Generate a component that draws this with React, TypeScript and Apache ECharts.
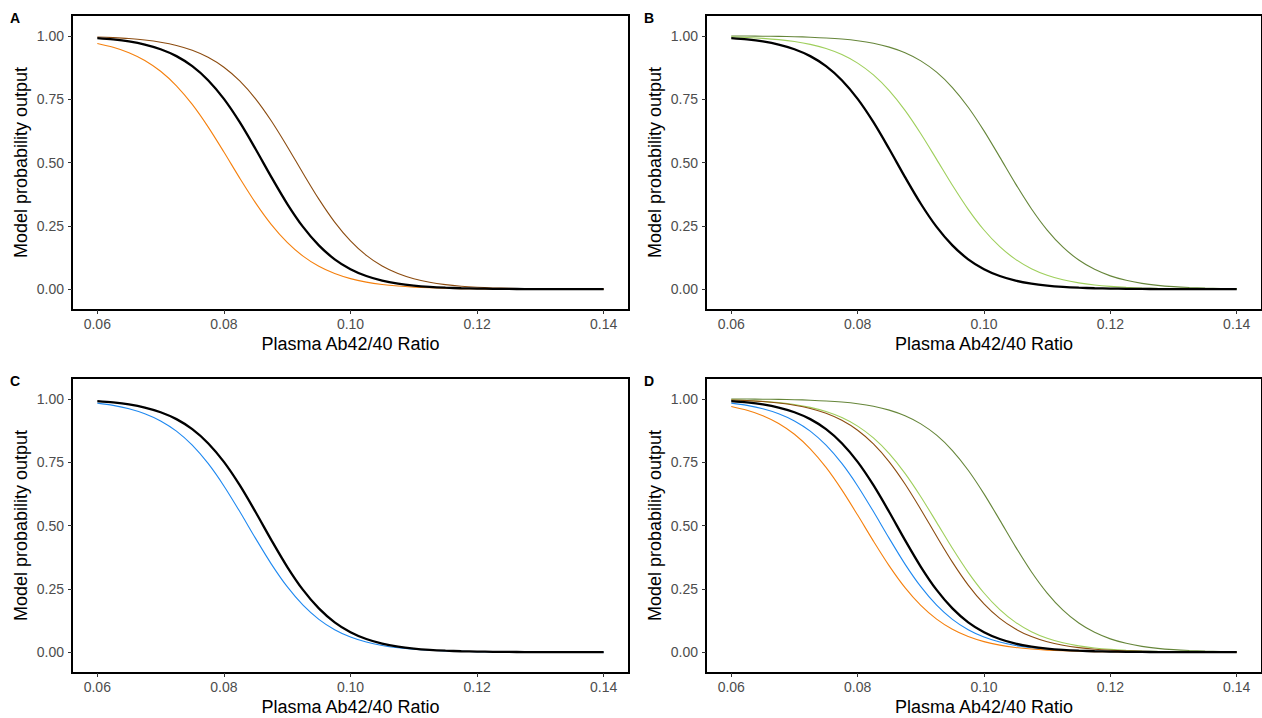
import React, { useEffect, useRef } from "react";
import * as echarts from "echarts";

// Plasma Ab42/40 ratio sample positions
const ratio = [
  0.06, 0.0625, 0.065, 0.0675, 0.07, 0.0725, 0.075, 0.0775, 0.08, 0.0825, 0.085,
  0.0875, 0.09, 0.0925, 0.095, 0.0975, 0.1, 0.1025, 0.105, 0.1075, 0.11, 0.1125,
  0.115, 0.1175, 0.12, 0.1225, 0.125, 0.1275, 0.13, 0.1325, 0.135, 0.1375, 0.14,
];

// black reference curve (all panels)
const overall = [
  0.9907, 0.9855, 0.9776, 0.9654, 0.947, 0.9197, 0.8802, 0.8247, 0.751, 0.659, 0.5533,
  0.4425, 0.3372, 0.2458, 0.1728, 0.118, 0.079, 0.0521, 0.034, 0.0221, 0.0143, 0.0092,
  0.0059, 0.0038, 0.0024, 0.0016, 0.001, 0.0006, 0.0004, 0.0003, 0.0002, 0.0001, 0.0001,
];
// orange curve (A, D)
const orangeCurve = [
  0.9697, 0.9549, 0.9334, 0.9027, 0.86, 0.8026, 0.7291, 0.6405, 0.5412, 0.4384, 0.3408,
  0.2549, 0.1847, 0.1304, 0.0903, 0.0617, 0.0417, 0.028, 0.0187, 0.0125, 0.0083, 0.0055,
  0.0037, 0.0024, 0.0016, 0.0011, 0.0007, 0.0005, 0.0003, 0.0002, 0.0001, 0.0001, 0.0001,
];
// brown curve (A, D)
const brownCurve = [
  0.9953, 0.9928, 0.9891, 0.9834, 0.9748, 0.9619, 0.9429, 0.9152, 0.876, 0.822, 0.7512,
  0.6637, 0.5634, 0.4576, 0.3555, 0.265, 0.1908, 0.1335, 0.0915, 0.0618, 0.0413, 0.0274,
  0.0181, 0.0119, 0.0078, 0.0051, 0.0034, 0.0022, 0.0015, 0.001, 0.0006, 0.0004, 0.0003,
];
// light green curve (B, D)
const lightGreenCurve = [
  0.9956, 0.9933, 0.9899, 0.9848, 0.9773, 0.9661, 0.9496, 0.9258, 0.8921, 0.8455, 0.7836,
  0.7057, 0.6135, 0.5124, 0.4102, 0.3153, 0.2336, 0.1679, 0.1178, 0.0812, 0.0553, 0.0373,
  0.025, 0.0167, 0.0111, 0.0074, 0.0049, 0.0033, 0.0022, 0.0014, 0.001, 0.0006, 0.0004,
];
// dark olive curve (B, D)
const oliveCurve = [
  0.9993, 0.999, 0.9984, 0.9976, 0.9964, 0.9944, 0.9915, 0.9871, 0.9804, 0.9703, 0.9552,
  0.9331, 0.9011, 0.8563, 0.7957, 0.7181, 0.6248, 0.5212, 0.4158, 0.3176, 0.2333, 0.1659,
  0.1151, 0.0784, 0.0527, 0.0351, 0.0232, 0.0153, 0.0101, 0.0066, 0.0043, 0.0028, 0.0019,
];
// blue curve (C, D)
const blueCurve = [
  0.9828, 0.9739, 0.9607, 0.9411, 0.9126, 0.8723, 0.817, 0.7448, 0.6561, 0.555, 0.4492,
  0.3477, 0.2585, 0.1856, 0.1297, 0.0887, 0.0598, 0.04, 0.0265, 0.0175, 0.0115, 0.0075,
  0.0049, 0.0032, 0.0021, 0.0014, 0.0009, 0.0006, 0.0004, 0.0003, 0.0002, 0.0001, 0.0001,
];

const xTicks = [0.06, 0.08, 0.1, 0.12, 0.14];
const yTicks = [0, 0.25, 0.5, 0.75, 1];
const panelLabels = ["A", "B", "C", "D"];
const xTitle = "Plasma Ab42/40 Ratio";
const yTitle = "Model probability output";

const COLORS = {
  black: "#000000",
  orange: "#F5800E",
  brown: "#8C4C10",
  lightGreen: "#9FCF5C",
  olive: "#66863A",
  blue: "#1E88F0",
};

type Curve = { values: number[]; color: string; width: number };

const panels: Curve[][] = [
  [
    { values: brownCurve, color: COLORS.brown, width: 1.1 },
    { values: orangeCurve, color: COLORS.orange, width: 1.1 },
    { values: overall, color: COLORS.black, width: 2.3 },
  ],
  [
    { values: oliveCurve, color: COLORS.olive, width: 1.1 },
    { values: lightGreenCurve, color: COLORS.lightGreen, width: 1.1 },
    { values: overall, color: COLORS.black, width: 2.3 },
  ],
  [
    { values: blueCurve, color: COLORS.blue, width: 1.1 },
    { values: overall, color: COLORS.black, width: 2.3 },
  ],
  [
    { values: oliveCurve, color: COLORS.olive, width: 1.1 },
    { values: lightGreenCurve, color: COLORS.lightGreen, width: 1.1 },
    { values: brownCurve, color: COLORS.brown, width: 1.1 },
    { values: blueCurve, color: COLORS.blue, width: 1.1 },
    { values: orangeCurve, color: COLORS.orange, width: 1.1 },
    { values: overall, color: COLORS.black, width: 2.3 },
  ],
];

const FONT = "'Liberation Sans', Arial, Helvetica, sans-serif";

export default function App() {
  const ref = useRef<HTMLDivElement>(null);

  useEffect(() => {
    if (!ref.current) return;
    const chart = echarts.init(ref.current, undefined, { renderer: "svg" });

    const gridPos = [
      { left: 72, top: 15, width: 557, height: 295 },
      { left: 706, top: 15, width: 556, height: 295 },
      { left: 72, top: 378, width: 557, height: 295 },
      { left: 706, top: 378, width: 556, height: 295 },
    ];
    const labelPos = [
      { x: 10, y: 18 },
      { x: 644, y: 18 },
      { x: 10, y: 381 },
      { x: 644, y: 381 },
    ];

    const grid = gridPos.map((g) => ({
      ...g,
      show: true,
      borderColor: "#000",
      borderWidth: 2,
      backgroundColor: "#fff",
    }));

    const xAxis = gridPos.map((_, i) => ({
      gridIndex: i,
      type: "value",
      min: 0.056,
      max: 0.144,
      splitLine: { show: false },
      axisLine: { show: true, onZero: false, lineStyle: { color: "#000", width: 2 } },
      axisTick: {
        show: true,
        customValues: xTicks,
        length: 4,
        lineStyle: { color: "#333", width: 1 },
      },
      axisLabel: {
        customValues: xTicks,
        formatter: (v: number) => v.toFixed(2),
        color: "#4d4d4d",
        fontSize: 14,
        fontFamily: FONT,
        margin: 7,
      },
      name: xTitle,
      nameLocation: "middle",
      nameGap: 25,
      nameTextStyle: { color: "#000", fontSize: 18, fontFamily: FONT },
    }));

    const yAxis = gridPos.map((_, i) => ({
      gridIndex: i,
      type: "value",
      min: -0.082,
      max: 1.082,
      splitLine: { show: false },
      axisLine: { show: true, onZero: false, lineStyle: { color: "#000", width: 2 } },
      axisTick: {
        show: true,
        customValues: yTicks,
        length: 4,
        lineStyle: { color: "#333", width: 1 },
      },
      axisLabel: {
        customValues: yTicks,
        formatter: (v: number) => v.toFixed(2),
        color: "#4d4d4d",
        fontSize: 14,
        fontFamily: FONT,
        margin: 8,
      },
      name: yTitle,
      nameLocation: "middle",
      nameRotate: 90,
      nameGap: 42,
      nameTextStyle: { color: "#000", fontSize: 18, fontFamily: FONT },
    }));

    const series: any[] = [];
    panels.forEach((curves, pi) => {
      curves.forEach((c) => {
        series.push({
          type: "line",
          xAxisIndex: pi,
          yAxisIndex: pi,
          data: ratio.map((x, k) => [x, c.values[k]]),
          showSymbol: false,
          symbol: "none",
          smooth: 0.3,
          lineStyle: { color: c.color, width: c.width },
          itemStyle: { color: c.color },
          emphasis: { disabled: true },
          silent: true,
        });
      });
    });

    chart.setOption({
      animation: false,
      backgroundColor: "#fff",
      grid,
      xAxis,
      yAxis,
      series,
      graphic: panelLabels.map((t, i) => ({
        type: "text",
        x: labelPos[i].x,
        y: labelPos[i].y,
        style: {
          text: t,
          fill: "#000",
          font: `bold 14px ${FONT}`,
          verticalAlign: "middle",
          align: "left",
        },
      })),
    });

    return () => chart.dispose();
  }, []);

  return (
    <div
      ref={ref}
      style={{ position: "absolute", left: 0, top: 0, width: 1262, height: 718, background: "#fff" }}
    />
  );
}
